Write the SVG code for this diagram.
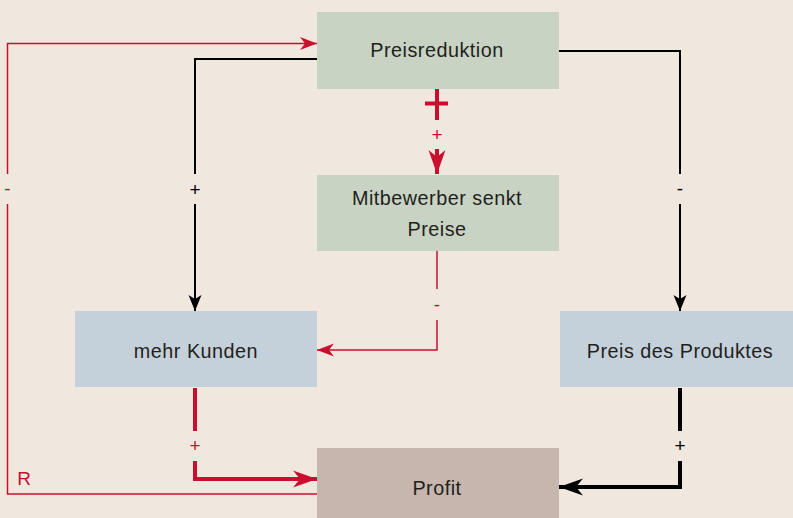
<svg xmlns="http://www.w3.org/2000/svg" width="793" height="518" viewBox="0 0 793 518">
<defs>
<style>
.t{font-family:"Liberation Sans",Arial,sans-serif;font-size:19.8px;fill:#231f20;text-anchor:middle;letter-spacing:0.5px}
.l{font-family:"Liberation Sans",Arial,sans-serif;font-size:19px;text-anchor:middle}
.green{fill:#c8d3c3}
.blue{fill:#c5d1da}
.brown{fill:#c6b6ad}
.rt{stroke:#c8102e;stroke-width:1.5;fill:none}
.rT{stroke:#c8102e;stroke-width:4;fill:none}
.bt{stroke:#000;stroke-width:2;fill:none}
.bT{stroke:#000;stroke-width:4;fill:none}
</style>
<marker id="ar" viewBox="-18 -8 19 16" refX="0" refY="0" markerWidth="19" markerHeight="16" markerUnits="userSpaceOnUse" orient="auto"><path d="M0,0 L-17,-6.5 L-12,0 L-17,6.5 Z" fill="#c8102e"/></marker>
<marker id="ab" viewBox="-18 -8 19 16" refX="0" refY="0" markerWidth="19" markerHeight="16" markerUnits="userSpaceOnUse" orient="auto"><path d="M0,0 L-16,-6.5 L-12,0 L-16,6.5 Z" fill="#000"/></marker>
<marker id="aR" viewBox="-25 -10 26 20" refX="0" refY="0" markerWidth="26" markerHeight="20" markerUnits="userSpaceOnUse" orient="auto"><path d="M0,0 L-24,-8.5 L-17,0 L-24,8.5 Z" fill="#c8102e"/></marker>
<marker id="aB" viewBox="-25 -10 26 20" refX="0" refY="0" markerWidth="26" markerHeight="20" markerUnits="userSpaceOnUse" orient="auto"><path d="M0,0 L-24,-8.5 L-17,0 L-24,8.5 Z" fill="#000"/></marker>
</defs>
<rect width="793" height="518" fill="#f0e8de"/>
<g id="preisreduktion"><rect class="green" x="317" y="12" width="242" height="77"/><text class="t" x="437" y="57">Preisreduktion</text></g>
<g id="mitbewerber"><rect class="green" x="317" y="175" width="242" height="76"/><text class="t" x="437" y="205">Mitbewerber senkt</text><text class="t" x="437" y="236">Preise</text></g>
<g id="kunden"><rect class="blue" x="75" y="311" width="242" height="76"/><text class="t" x="196" y="358">mehr Kunden</text></g>
<g id="preis"><rect class="blue" x="560" y="311" width="233" height="76"/><text class="t" x="680" y="358">Preis des Produktes</text></g>
<g id="profit"><rect class="brown" x="317" y="448" width="242" height="70"/><text class="t" x="437" y="495">Profit</text></g>
<g id="connectors">
<path class="rt" d="M317,494 H7.5 V204 M7.5,174 V43.5 H305"/>
<path d="M305,43.5 H317" class="rt" marker-end="url(#ar)"/>
<path class="bt" d="M317,59 H195 V174 M195,204 V298"/>
<path d="M195,298 V311" class="bt" marker-end="url(#ab)"/>
<path class="bt" d="M559,51 H680 V174 M680,204 V298"/>
<path d="M680,298 V311" class="bt" marker-end="url(#ab)"/>
<path class="rt" d="M437,251 V289 M437,320 V350 H328"/>
<path d="M328,350 H317" class="rt" marker-end="url(#ar)"/>
<path class="rT" d="M437,89 V120 M425,103.5 H448 M437,149 V160"/>
<path d="M437,160 V174" class="rT" marker-end="url(#aR)"/>
<path class="rT" d="M195,388 V431 M195,461 V479 H303"/>
<path d="M303,479 H317" class="rT" marker-end="url(#aR)"/>
<path class="bT" d="M680,388 V431 M680,461 V487 H573"/>
<path d="M573,487 H559" class="bT" marker-end="url(#aB)"/>
<text class="l" x="7.5" y="195" fill="#c8102e">-</text>
<text class="l" x="24" y="485" fill="#c8102e">R</text>
<text class="l" x="195" y="196" fill="#000">+</text>
<text class="l" x="680" y="195" fill="#000">-</text>
<text class="l" x="437" y="141" fill="#c8102e">+</text>
<text class="l" x="437" y="311" fill="#c8102e">-</text>
<text class="l" x="195" y="452" fill="#c8102e">+</text>
<text class="l" x="680" y="452" fill="#000">+</text>
</g>
</svg>
